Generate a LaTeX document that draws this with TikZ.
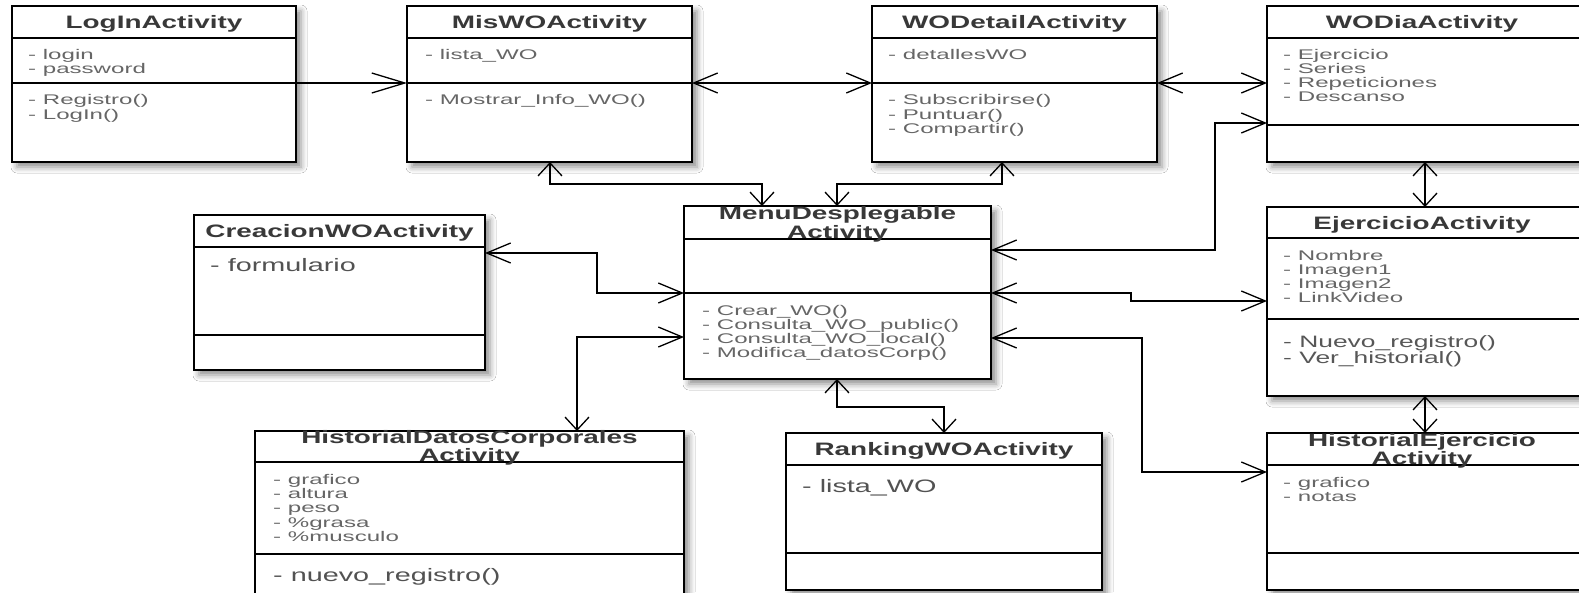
\documentclass[tikz,border=0pt]{standalone}
\usepackage{fontspec}
\usetikzlibrary{arrows.meta,shadows.blur}
\newfontfamily\tfont{Liberation Sans}[FakeStretch=1.55]
\newfontfamily\afont{Liberation Sans}[FakeStretch=1.72]
\newfontfamily\bfont{Liberation Sans}[FakeStretch=1.6]
\definecolor{titlec}{HTML}{383838}
\definecolor{attrc}{HTML}{666666}
\tikzset{
  Hb/.tip={Straight Barb[length=24pt,width=20pt]},
  Lb/.tip={Straight Barb[length=33pt,width=20pt]},
  Vb/.tip={Straight Barb[length=13pt,width=24pt]},
  box/.style={draw=black, line width=1.6pt, fill=white, inner sep=0pt, outer sep=0pt, anchor=north west,
    blur shadow={shadow xshift=5pt, shadow yshift=-5pt, shadow blur radius=6pt, shadow opacity=45}},
  sepline/.style={line width=1.4pt},
  thicksep/.style={line width=2.8pt},
  title/.style={font=\tfont\bfseries\fontsize{18}{20}\selectfont, text=titlec, inner sep=0pt, anchor=base},
  attr/.style={font=\afont\fontsize{14}{14}\selectfont, text=attrc, inner sep=0pt, anchor=base west},
  med/.style={attr, font=\bfont\fontsize{16.5}{16}\selectfont, text=attrc!85!black},
  big/.style={attr, font=\bfont\fontsize{18}{18}\selectfont, text=attrc!80!black},
  conn/.style={line width=1.3pt, line join=miter},
}
% name, x, y, w, h, title line y, separator y, separator style
\newcommand\umlbox[8]{%
  \node[box, minimum width=#4pt, minimum height=#5pt] (#1) at (#2,#3) {};
  \draw[sepline] (#1.west |- 0,#6) -- (#1.east |- 0,#6);
  \draw[#8] (#1.west |- 0,#7) -- (#1.east |- 0,#7);
}
% style, x, first baseline, step, name prefix, lines
\newcommand\txtlines[6]{%
  \foreach \tx [count=\i] in {#6} \node[#1] (#5\i) at (#2,{#3+#4*(\i-1)}) {\tx};
}
\begin{document}
\begin{tikzpicture}[x=1pt,y=-1pt]
\useasboundingbox (0,0) rectangle (1579,592);
\fill[white] (0,0) rectangle (1579,592);
\clip (0,0) rectangle (1579,592);

% ---- boxes ----
\umlbox{login}{12}{6}{284}{156}{38}{83}{sepline}
\umlbox{mis}{407}{6}{285}{156}{38}{83}{sepline}
\umlbox{wodetail}{872}{6}{285}{156}{38}{83}{sepline}
\umlbox{wodia}{1267}{6}{323}{156}{38}{125}{thicksep}
\umlbox{creacion}{194}{215}{291}{155}{247}{335}{sepline}
\umlbox{menu}{684}{206}{307}{173}{239}{293}{sepline}
\umlbox{ejer}{1267}{207}{323}{189}{238}{319}{sepline}
\umlbox{histdatos}{255}{431}{429}{175}{462}{554}{sepline}
\umlbox{ranking}{786}{433}{316}{157}{465}{553}{sepline}
\umlbox{histej}{1267}{433}{323}{157}{465}{553}{sepline}

% ---- texts ----
\node[title] (login-t) at (154,28.5) {LogInActivity};
\txtlines{attr}{28}{59.5}{14}{login-a}{- login,- password}
\txtlines{attr}{28}{104.5}{14.5}{login-m}{- Registro(),- LogIn()}

\node[title] (mis-t) at (549.5,28.5) {MisWOActivity};
\txtlines{attr}{425}{59.5}{14}{mis-a}{- lista\_WO}
\txtlines{attr}{425}{104.5}{14}{mis-m}{- Mostrar\_Info\_WO()}

\node[title] (wodetail-t) at (1014.5,28.5) {WODetailActivity};
\txtlines{attr}{888}{59.5}{14}{wodetail-a}{- detallesWO}
\txtlines{attr}{888}{104.5}{14.5}{wodetail-m}{- Subscribirse(),- Puntuar(),- Compartir()}

\node[title] (wodia-t) at (1422,28.5) {WODiaActivity};
\txtlines{attr}{1283}{59.5}{14}{wodia-a}{- Ejercicio,- Series,- Repeticiones,- Descanso}

\node[title] (creacion-t) at (339.5,237.5) {CreacionWOActivity};
\txtlines{big}{210}{271}{16}{creacion-a}{- formulario}

\node[title] (menu-t1) at (837.5,219.5) {MenuDesplegable};
\node[title] (menu-t2) at (837.5,238) {Activity};
\txtlines{attr}{702}{315.5}{14}{menu-m}{- Crear\_WO(),- Consulta\_WO\_public(),- Consulta\_WO\_local(),- Modifica\_datosCorp()}

\node[title] (ejer-t) at (1422,229) {EjercicioActivity};
\txtlines{attr}{1283}{260.5}{14}{ejer-a}{- Nombre,- Imagen1,- Imagen2,- LinkVideo}
\txtlines{med}{1283}{347.5}{16}{ejer-m}{- Nuevo\_registro(),- Ver\_historial()}

\node[title] (histdatos-t1) at (469.5,443.5) {HistorialDatosCorporales};
\node[title] (histdatos-t2) at (469.5,461.5) {Activity};
\txtlines{attr}{273}{484.5}{14.2}{histdatos-a}{- grafico,- altura,- peso,- \%grasa,- \%musculo}
\txtlines{big}{273}{581}{16}{histdatos-m}{- nuevo\_registro()}

\node[title] (ranking-t) at (944,455.5) {RankingWOActivity};
\txtlines{big}{802}{492}{16}{ranking-a}{- lista\_WO}

\node[title] (histej-t1) at (1422,446.5) {HistorialEjercicio};
\node[title] (histej-t2) at (1422,464.5) {Activity};
\txtlines{attr}{1283}{487.5}{14}{histej-a}{- grafico,- notas}

% ---- connectors ----
\draw[conn, -Lb] (login.east |- 0,83) -- (mis.west |- 0,83);
\draw[conn, Hb-Hb] (mis.east |- 0,83) -- (wodetail.west |- 0,83);
\draw[conn, Hb-Hb] (wodetail.east |- 0,83) -- (wodia.west |- 0,83);
\draw[conn, Vb-Vb] (mis.south -| 550,0) -- (550,184) -- (762,184) -- (menu.north -| 762,0);
\draw[conn, Vb-Vb] (wodetail.south -| 1002,0) -- (1002,184) -- (837,184) -- (menu.north -| 837,0);
\draw[conn, Hb-Hb] (wodia.west |- 0,123) -- (1215,123) -- (1215,250) -- (menu.east |- 0,250);
\draw[conn, Vb-Vb] (wodia.south -| 1425,0) -- (ejer.north -| 1425,0);
\draw[conn, Hb-Hb] (creacion.east |- 0,253) -- (597,253) -- (597,293) -- (menu.west |- 0,293);
\draw[conn, Vb-Hb] (histdatos.north -| 577,0) -- (577,337) -- (menu.west |- 0,337);
\draw[conn, Hb-Hb] (menu.east |- 0,293) -- (1131,293) -- (1131,301) -- (ejer.west |- 0,301);
\draw[conn, Hb-Hb] (menu.east |- 0,338) -- (1142,338) -- (1142,472) -- (histej.west |- 0,472);
\draw[conn, Vb-Vb] (menu.south -| 837,0) -- (837,407) -- (944,407) -- (ranking.north -| 944,0);
\draw[conn, Vb-Vb] (ejer.south -| 1425,0) -- (histej.north -| 1425,0);
\end{tikzpicture}
\end{document}
